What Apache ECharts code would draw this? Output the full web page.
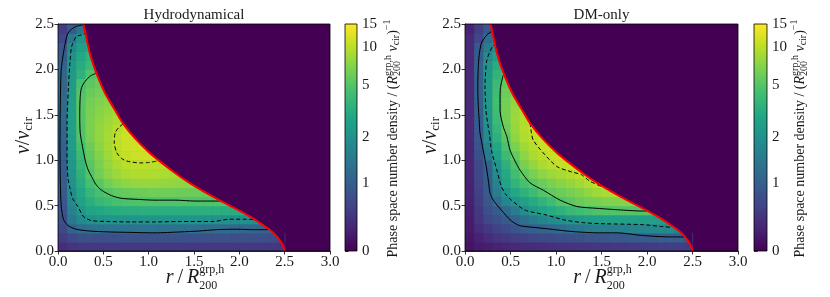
<!DOCTYPE html>
<html><head><meta charset="utf-8">
<script src="https://cdn.jsdelivr.net/npm/echarts@6/dist/echarts.min.js"></script>
<style>html,body{margin:0;padding:0;background:#fff}#c{width:830px;height:297px}</style>
</head><body><div id="c"></div><script>
// ---------- data ----------
const rCenters = [0.05,0.15,0.25,0.35,0.45,0.55,0.65,0.75,0.85,0.95,1.05,1.15,1.25,1.35,1.45,1.55,1.65,1.75,1.85,1.95,2.05,2.15,2.25,2.35,2.45,2.55,2.65,2.75,2.85,2.95];
const vCenters = [0.05,0.15,0.25,0.35,0.45,0.55,0.65,0.75,0.85,0.95,1.05,1.15,1.25,1.35,1.45,1.55,1.65,1.75,1.85,1.95,2.05,2.15,2.25,2.35,2.45];
const xTicks = [0,0.5,1,1.5,2,2.5,3];
const yTicks = [0,0.5,1,1.5,2,2.5];
const cbTicks = [0,1,2,5,10,15];
const cbPos = [0,0.30,0.50,0.73,0.90,1.0];

// rows: bottom (v=0.05) to top (v=2.45); columns from r=0.05 up to escape curve
const hydroDensity = [
 [0.35,0.40,0.45,0.45,0.45,0.45,0.45,0.45,0.45,0.45,0.45,0.45,0.45,0.45,0.45,0.45,0.45,0.45,0.45,0.45,0.45,0.45,0.45,0.44,0.42],
 [0.50,0.62,0.72,0.74,0.75,0.75,0.75,0.76,0.76,0.76,0.76,0.76,0.76,0.76,0.75,0.75,0.74,0.74,0.74,0.73,0.73,0.72,0.72,0.70,0.66],
 [0.65,1.05,1.20,1.28,1.30,1.30,1.30,1.30,1.30,1.30,1.30,1.28,1.28,1.28,1.26,1.25,1.22,1.20,1.18,1.15,1.12,1.10,1.05,1.00],
 [0.75,1.40,1.80,2.00,2.10,2.12,2.14,2.15,2.15,2.15,2.15,2.15,2.15,2.12,2.10,2.08,2.05,2.02,2.00,1.98,1.96,1.95,1.90],
 [0.80,1.60,2.20,2.70,2.95,3.10,3.20,3.30,3.30,3.35,3.35,3.35,3.35,3.35,3.35,3.35,3.35,3.35,3.30,3.25,3.20],
 [0.85,1.80,2.60,3.30,3.80,4.20,4.50,4.65,4.75,4.80,4.80,4.80,4.80,4.80,4.80,4.85,4.85,4.90,4.90],
 [0.90,1.90,2.90,3.80,4.50,5.00,5.40,5.70,5.90,6.00,6.10,6.10,6.10,6.00,6.00,5.90,5.80],
 [0.95,2.00,3.20,4.40,5.20,6.20,7.00,7.50,7.80,7.90,7.90,7.80,7.70,7.60,7.40,7.20],
 [0.95,2.10,3.50,4.90,6.20,7.30,8.20,8.80,9.10,9.20,9.10,9.00,8.80,8.60],
 [1.00,2.20,3.80,5.20,6.60,7.80,8.90,9.60,9.90,9.90,9.80,9.60,9.40],
 [1.00,2.30,4.00,5.50,7.00,8.30,9.60,10.4,10.8,11.0,11.0],
 [1.05,2.40,4.40,6.00,7.40,8.60,10.0,10.8,11.2,11.3],
 [1.10,2.50,4.80,6.50,7.70,8.70,10.0,10.8,11.0],
 [1.10,2.60,4.90,6.60,7.70,8.50,9.70,10.5],
 [1.15,2.60,5.00,6.60,7.50,8.20,8.80,9.30],
 [1.15,2.60,5.10,6.50,7.20,7.80,8.30],
 [1.15,2.60,5.10,6.20,6.80,7.30],
 [1.10,2.40,4.90,5.80,6.30,6.80],
 [1.10,2.30,4.50,5.30,5.80],
 [1.10,2.30,3.50,4.80,5.30],
 [1.05,2.20,3.20,4.00,4.60],
 [0.95,2.00,3.00,3.60],
 [0.85,1.80,2.60,3.00],
 [0.60,1.40,2.10,2.50],
 [0.50,0.90,1.30,1.50]
];
const dmDensity = [
 [0.12,0.18,0.22,0.25,0.28,0.30,0.32,0.34,0.35,0.37,0.38,0.39,0.40,0.41,0.42,0.43,0.44,0.45,0.46,0.47,0.48,0.49,0.50,0.50,0.48],
 [0.15,0.25,0.33,0.40,0.45,0.50,0.55,0.60,0.63,0.66,0.70,0.73,0.76,0.78,0.80,0.82,0.85,0.87,0.90,0.92,0.95,0.97,1.00,1.00,0.90],
 [0.18,0.33,0.45,0.55,0.65,0.78,0.95,1.00,1.05,1.10,1.20,1.30,1.40,1.50,1.55,1.60,1.60,1.65,1.70,1.75,1.80,1.85,1.90,1.70],
 [0.20,0.40,0.60,0.75,0.90,1.05,1.25,1.50,1.70,1.85,2.00,2.20,2.35,2.45,2.50,2.55,2.60,2.60,2.60,2.60,2.60,2.50,2.40],
 [0.22,0.45,0.75,0.95,1.15,1.50,1.90,2.30,2.70,3.10,3.50,3.90,4.20,4.50,4.70,4.85,4.90,5.00,5.00,5.00,5.00],
 [0.23,0.50,0.85,1.20,1.70,2.10,2.60,3.10,3.60,4.20,4.90,5.30,5.80,6.20,6.50,6.80,7.00,7.10,7.00],
 [0.24,0.55,0.95,1.50,2.10,2.90,3.50,4.10,4.90,5.50,6.00,6.50,7.00,7.60,8.30,8.80,9.00],
 [0.25,0.58,0.95,1.70,2.70,3.60,4.50,5.20,5.90,6.60,7.20,7.80,8.40,9.30,10.2,10.3],
 [0.26,0.62,1.00,1.90,3.00,4.30,5.40,6.50,7.40,8.10,8.70,9.40,10.0,10.5],
 [0.27,0.65,1.05,2.10,3.40,4.80,6.50,7.80,8.80,9.60,10.3,10.8,11.0],
 [0.28,0.75,1.45,2.60,4.00,5.50,7.40,8.80,9.80,10.6,11.0],
 [0.28,0.80,1.60,2.90,4.60,6.60,8.30,9.50,10.5,11.0],
 [0.30,0.88,1.90,3.40,5.30,7.50,9.20,10.2,11.0],
 [0.30,0.90,1.95,3.70,5.80,7.90,9.50,10.5],
 [0.30,0.95,2.05,4.10,6.20,8.10,9.40,10.2],
 [0.30,0.98,2.20,4.30,6.40,8.00,9.00],
 [0.30,1.00,2.25,4.40,6.30,7.60],
 [0.30,1.00,2.25,4.30,6.00,7.00],
 [0.30,1.00,2.30,4.00,5.60],
 [0.30,1.00,2.20,3.60,5.20],
 [0.30,1.00,2.10,3.20,4.40],
 [0.30,0.95,1.80,2.50],
 [0.30,0.90,1.50,2.10],
 [0.30,0.60,1.20,1.70],
 [0.25,0.50,0.85,1.10]
];

// escape-velocity curve (red)
const escR = [0.28,0.30,0.35,0.415,0.518,0.647,0.72,0.85,1.0,1.12,1.345,1.45,1.6,1.79,2.0,2.15,2.32,2.38,2.43,2.465,2.485,2.5];
const escV = [2.5,2.41,2.18,1.98,1.74,1.52,1.40,1.24,1.09,0.99,0.82,0.75,0.66,0.555,0.445,0.36,0.245,0.195,0.14,0.09,0.05,0.0];

// contours (levels 1, 2, 5, 10)
const hydroC1 = [[0.28,2.49],[0.19,2.47],[0.11,2.40],[0.06,2.18],[0.035,1.99],[0.025,1.6],[0.022,1.2],[0.025,0.8],[0.035,0.5],[0.06,0.35],[0.11,0.28],[0.2,0.24],[0.35,0.22],[0.55,0.21],[0.8,0.205],[1.07,0.20],[1.35,0.21],[1.55,0.22],[1.75,0.235],[1.97,0.24],[2.15,0.235],[2.32,0.235]];
const hydroC2 = [[0.33,2.40],[0.26,2.38],[0.2,2.36],[0.15,2.25],[0.13,2.05],[0.115,1.8],[0.10,1.4],[0.10,1.0],[0.11,0.8],[0.13,0.7],[0.16,0.58],[0.22,0.49],[0.28,0.38],[0.37,0.335],[0.55,0.325],[0.8,0.32],[1.07,0.32],[1.35,0.325],[1.71,0.325],[1.89,0.35],[2.05,0.35],[2.19,0.345]];
const hydroC5 = [[0.43,1.96],[0.36,1.93],[0.3,1.87],[0.26,1.80],[0.245,1.7],[0.24,1.5],[0.245,1.3],[0.27,1.15],[0.30,1.0],[0.33,0.90],[0.37,0.82],[0.42,0.73],[0.48,0.67],[0.59,0.61],[0.70,0.58],[0.85,0.57],[1.07,0.56],[1.3,0.56],[1.51,0.55],[1.65,0.55],[1.79,0.55]];
const hydroC10 = [[0.72,1.40],[0.67,1.36],[0.63,1.30],[0.62,1.19],[0.65,1.08],[0.70,1.02],[0.76,0.99],[0.90,0.97],[1.0,0.975],[1.09,0.99]];
const dmC1 = [[0.295,2.42],[0.24,2.38],[0.18,2.29],[0.155,2.15],[0.146,2.03],[0.14,1.80],[0.146,1.60],[0.155,1.45],[0.165,1.30],[0.20,1.11],[0.24,0.89],[0.26,0.75],[0.275,0.64],[0.31,0.56],[0.40,0.45],[0.51,0.33],[0.60,0.28],[0.66,0.27],[0.9,0.245],[1.17,0.215],[1.47,0.20],[1.67,0.20],[1.96,0.17],[2.26,0.155],[2.41,0.155]];
const dmC2 = [[0.35,2.29],[0.30,2.25],[0.24,2.10],[0.22,1.81],[0.23,1.55],[0.25,1.40],[0.27,1.28],[0.29,1.11],[0.35,0.89],[0.40,0.71],[0.45,0.62],[0.51,0.56],[0.66,0.45],[0.88,0.40],[1.1,0.34],[1.32,0.31],[1.54,0.30],[1.96,0.29],[2.15,0.27],[2.28,0.26]];
const dmC5 = [[0.42,1.94],[0.39,1.80],[0.385,1.70],[0.385,1.55],[0.42,1.37],[0.46,1.26],[0.495,1.11],[0.55,0.99],[0.605,0.89],[0.715,0.75],[0.86,0.67],[1.045,0.56],[1.23,0.49],[1.45,0.47],[1.74,0.45],[1.95,0.44],[2.0,0.44]];
const dmC10 = [[0.715,1.41],[0.73,1.30],[0.75,1.22],[0.86,1.08],[1.01,0.93],[1.155,0.876],[1.28,0.84],[1.37,0.77],[1.5,0.71],[1.55,0.70]];

// ---------- colour scale (colorbar norm) ----------
const viridis = ['#440154','#482475','#414487','#355f8d','#2a788e','#21918c','#22a884','#44bf70','#7ad151','#bddf26','#fde725'];
function toT(x){
  if (x <= 0) return 0;
  if (x < 1) return cbPos[1] * Math.asinh(x/0.555) / Math.asinh(1/0.555);
  for (let i = 1; i < cbTicks.length - 1; i++) {
    if (x <= cbTicks[i+1]) {
      const f = Math.log(x/cbTicks[i]) / Math.log(cbTicks[i+1]/cbTicks[i]);
      return cbPos[i] + f*(cbPos[i+1]-cbPos[i]);
    }
  }
  return 1;
}
function cells(rows){
  const out = [];
  rows.forEach((row, j) => row.forEach((val, i) => out.push([rCenters[i], vCenters[j], toT(val), val])));
  return out;
}
const dr = rCenters[1]-rCenters[0], dv = vCenters[1]-vCenters[0];
function renderCell(params, api){
  const r = api.value(0), v = api.value(1);
  const a = api.coord([r - dr/2, v + dv/2]);
  const b = api.coord([r + dr/2, v - dv/2]);
  return {type:'rect', shape:{x:a[0], y:a[1], width:b[0]-a[0]+0.6, height:b[1]-a[1]+0.6}, style:{fill: api.visual('color')}};
}

// ---------- text helpers ----------
const FF = 'Liberation Serif';
const TXT = '#1a1a1a';
const mctx = document.createElement('canvas').getContext('2d');
function tw(t, size, italic){ mctx.font = (italic?'italic ':'') + size + 'px "' + FF + '"'; return mctx.measureText(t).width; }
function mathGroup(parts, cx, cy, rotation){
  let cur = 0; const kids = [];
  const mk = (t, size, italic, x, dy) => ({type:'text', x:x, y:dy||0, style:{text:t, fontSize:size, fontFamily:FF, fontStyle: italic?'italic':'normal', fill:TXT, align:'left', verticalAlign:'middle'}});
  parts.forEach(p => {
    if (p.stack) {
      let w = 0;
      p.stack.forEach(s => { w = Math.max(w, tw(s.t, s.size, s.italic)); kids.push(mk(s.t, s.size, s.italic, cur, s.dy)); });
      cur += w;
    } else {
      kids.push(mk(p.t, p.size, p.italic, cur, p.dy));
      cur += tw(p.t, p.size, p.italic);
    }
  });
  kids.forEach(k => k.x -= cur/2);
  return {type:'group', x:cx, y:cy, rotation:rotation||0, z:100, children:kids};
}
const yLabelParts = [{t:'v',size:20,italic:true},{t:'/',size:20},{t:'v',size:20,italic:true},{t:'cir',size:13,dy:5}];
const xLabelParts = [{t:'r',size:20,italic:true},{t:'\u2009/\u2009',size:20},{t:'R',size:20,italic:true},{stack:[{t:'grp,h',size:12,dy:-8},{t:'200',size:12,dy:8}]}];
const cbLabelParts = [{t:'Phase space number density / (',size:14},{t:'R',size:14,italic:true},{stack:[{t:'grp,h',size:10,dy:-5},{t:'200',size:10,dy:4}]},{t:' ',size:14},{t:'v',size:14,italic:true},{t:'cir',size:10,dy:3},{t:')',size:14},{t:'\u22121',size:10,dy:-6}];

// ---------- layout ----------
const panels = [
  {title:'Hydrodynamical', rows:hydroDensity, contours:[hydroC1,hydroC2,hydroC5,hydroC10], grid:{left:58, top:24, width:272, height:227}, cb:{left:345, width:12}, yLab:24, cbLab:393},
  {title:'DM-only', rows:dmDensity, contours:[dmC1,dmC2,dmC5,dmC10], grid:{left:465, top:24, width:273, height:227}, cb:{left:754, width:13}, yLab:431, cbLab:800}
];
const contourStyles = ['solid',[4,2.5],'solid',[4,2.5]];

const grids = [], xAxes = [], yAxes = [], series = [], graphics = [], heatIdx = [];
const axisCommon = {
  type:'value',
  axisLine:{show:true, lineStyle:{color:'#000', width:0.8}},
  axisTick:{show:true, inside:false, length:3.5, lineStyle:{color:'#000', width:0.8}},
  splitLine:{show:false},
  axisLabel:{fontFamily:FF, fontSize:15, color:TXT, margin:4, formatter: v => v.toFixed(1)}
};
panels.forEach((p, k) => {
  grids.push(Object.assign({show:true, backgroundColor:'#440154', borderWidth:0}, p.grid));
  xAxes.push(Object.assign({}, axisCommon, {gridIndex:k, min:xTicks[0], max:xTicks[xTicks.length-1], interval:xTicks[1]-xTicks[0]}));
  yAxes.push(Object.assign({}, axisCommon, {gridIndex:k, min:yTicks[0], max:yTicks[yTicks.length-1], interval:yTicks[1]-yTicks[0]}));
  heatIdx.push(series.length);
  series.push({type:'custom', xAxisIndex:k, yAxisIndex:k, data:cells(p.rows), encode:{x:0,y:1}, renderItem:renderCell, clip:true, z:1, silent:true});
  p.contours.forEach((c, ci) => series.push({type:'line', xAxisIndex:k, yAxisIndex:k, data:c, symbol:'none', smooth:0.25, clip:true, z:3, silent:true,
    lineStyle:{color:'#000', width:1, type:contourStyles[ci]}}));
  series.push({type:'line', xAxisIndex:k, yAxisIndex:k, data:escR.map((r,i)=>[r, escV[i]]), symbol:'none', smooth:0.2, clip:true, z:4, silent:true,
    lineStyle:{color:'#ff0000', width:2}, areaStyle:{color:'#440154', opacity:1, origin:'end'}});
  const g = p.grid;
  graphics.push({type:'rect', z:100, shape:{x:g.left, y:g.top, width:g.width, height:g.height}, style:{fill:null, stroke:'#000', lineWidth:0.8}});
  graphics.push({type:'text', z:100, x:g.left+g.width/2, y:15.5, style:{text:p.title, fontSize:15, fontFamily:FF, fill:TXT, align:'center', verticalAlign:'middle'}});
  graphics.push(mathGroup(yLabelParts, p.yLab, g.top+g.height/2 - 2, Math.PI/2));
  graphics.push(mathGroup(xLabelParts, g.left+g.width/2 + 1, 278, 0));
  // colorbar
  graphics.push({type:'rect', z:50, shape:{x:p.cb.left, y:g.top, width:p.cb.width, height:g.height},
    style:{fill:{type:'linear', x:0, y:1, x2:0, y2:0, colorStops: viridis.map((c,i)=>({offset:i/(viridis.length-1), color:c}))}, stroke:'#000', lineWidth:0.8}});
  graphics.push(mathGroup(cbLabelParts, p.cbLab, g.top+g.height/2 + 1, Math.PI/2));
});
panels.forEach((p, k) => {
  const gi = grids.length;
  grids.push({left:p.cb.left, top:p.grid.top, width:p.cb.width, height:p.grid.height});
  xAxes.push({gridIndex:gi, type:'value', show:false, min:0, max:1});
  yAxes.push({gridIndex:gi, type:'value', position:'right', min:0, max:1,
    axisLine:{show:false}, splitLine:{show:false},
    axisTick:{show:true, inside:false, length:3.5, customValues:cbPos, lineStyle:{color:'#000', width:0.8}},
    axisLabel:{customValues:cbPos, margin:5, fontFamily:FF, fontSize:15, color:TXT,
      formatter: v => { let bi = 0; cbPos.forEach((q,i)=>{ if (Math.abs(q-v) < Math.abs(cbPos[bi]-v)) bi = i; }); return String(cbTicks[bi]); }}});
});

const chart = echarts.init(document.getElementById('c'), null, {renderer:'canvas'});
chart.setOption({
  animation:false,
  backgroundColor:'#fff',
  grid:grids, xAxis:xAxes, yAxis:yAxes,
  visualMap:[{type:'continuous', show:false, min:0, max:1, dimension:2, seriesIndex:heatIdx, inRange:{color:viridis}}],
  series:series,
  graphic:graphics
});
</script></body></html>
